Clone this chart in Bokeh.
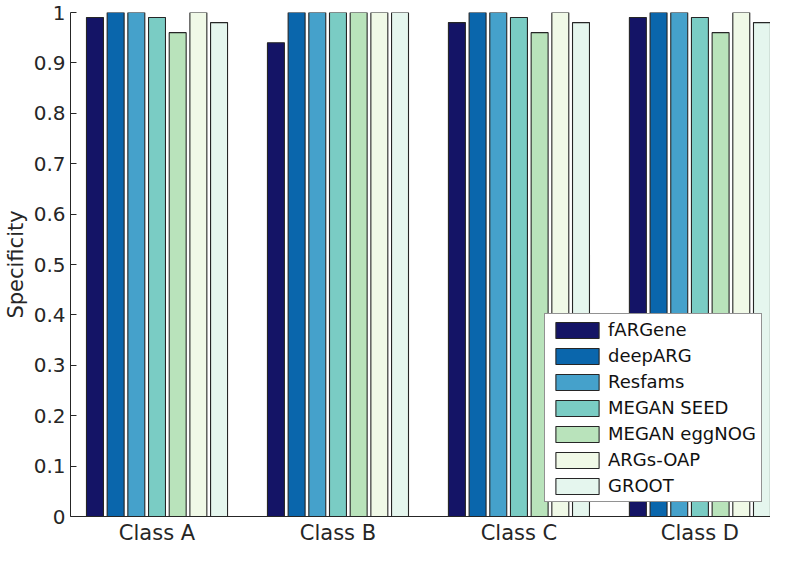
from bokeh.plotting import figure
from bokeh.models import Range1d, FixedTicker, ColumnDataSource, Legend, LegendItem
from bokeh.transform import dodge
from bokeh.embed import file_html
from bokeh.resources import INLINE

classes = ["Class A", "Class B", "Class C", "Class D"]
class_pos = [1, 2, 3, 4]
tools = ["fARGene", "deepARG", "Resfams", "MEGAN SEED", "MEGAN eggNOG", "ARGs-OAP", "GROOT"]
colors = ["#141466", "#0a66ac", "#45a1cb", "#7accc4", "#b9e3bb", "#f0f9e7", "#e5f6ee"]

fargene = [0.99, 0.94, 0.98, 0.99]
deeparg = [1.00, 1.00, 1.00, 1.00]
resfams = [1.00, 1.00, 1.00, 1.00]
megan_seed = [0.99, 1.00, 0.99, 0.99]
megan_eggnog = [0.96, 1.00, 0.96, 0.96]
args_oap = [1.00, 1.00, 1.00, 1.00]
groot = [0.98, 1.00, 0.98, 0.98]
series = [fargene, deeparg, resfams, megan_seed, megan_eggnog, args_oap, groot]

y_ticks = [0, 0.1, 0.2, 0.3, 0.4, 0.5, 0.6, 0.7, 0.8, 0.9, 1]

FONT = "DejaVu Sans"
AX = "#262626"

p = figure(width=770, height=547, output_backend="svg", toolbar_location=None,
           x_range=Range1d(0.522, 4.39), y_range=Range1d(0, 1),
           min_border_left=66, min_border_right=0, min_border_top=12, min_border_bottom=29)

data = {"x": class_pos}
for t, s in zip(tools, series):
    data[t] = s
src = ColumnDataSource(data)

pitch = 0.8 / 7
items = []
for i, (t, c) in enumerate(zip(tools, colors)):
    off = (i - 3) * pitch
    r = p.vbar(x=dodge("x", off, range=p.x_range), top=t, width=pitch * 0.82, bottom=0,
               source=src, fill_color=c, line_color=AX, line_width=1.1)
    items.append(LegendItem(label=t, renderers=[r]))

legend = Legend(items=items, location=(474, 14))
legend.label_text_font = FONT
legend.label_text_font_size = "18px"
legend.label_text_color = "#111111"
legend.glyph_width = 54
legend.glyph_height = 20
legend.spacing = 5
legend.padding = 5
legend.margin = 0
legend.label_standoff = 4
legend.border_line_color = AX
legend.border_line_width = 1
legend.background_fill_alpha = 1
p.add_layout(legend)

p.xaxis.ticker = FixedTicker(ticks=class_pos)
p.xaxis.major_label_overrides = {pos: lab for pos, lab in zip(class_pos, classes)}
p.xaxis.major_tick_in = 0
p.xaxis.major_tick_out = 0
p.xaxis.minor_tick_line_color = None
p.xaxis.major_label_text_font = FONT
p.xaxis.major_label_text_font_size = "21px"
p.xaxis.major_label_text_color = AX
p.xaxis.major_label_standoff = 4
p.xaxis.axis_line_color = AX

p.yaxis.ticker = FixedTicker(ticks=y_ticks)
p.yaxis.major_label_overrides = {v: ("0" if v == 0 else ("1" if v == 1 else f"{v:g}")) for v in y_ticks}
p.yaxis.major_tick_in = 6
p.yaxis.major_tick_out = 0
p.yaxis.minor_tick_line_color = None
p.yaxis.major_label_text_font = FONT
p.yaxis.major_label_text_font_size = "20px"
p.yaxis.major_label_text_color = AX
p.yaxis.major_label_standoff = 5
p.yaxis.axis_line_color = AX
p.yaxis.major_tick_line_color = AX
p.yaxis.axis_label = "Specificity"
p.yaxis.axis_label_text_font = FONT
p.yaxis.axis_label_text_font_size = "21px"
p.yaxis.axis_label_text_font_style = "normal"
p.yaxis.axis_label_text_color = AX
p.yaxis.axis_label_standoff = 3

p.xgrid.grid_line_color = None
p.ygrid.grid_line_color = None
p.outline_line_color = None

open("out.html", "w").write(file_html(p, INLINE))
